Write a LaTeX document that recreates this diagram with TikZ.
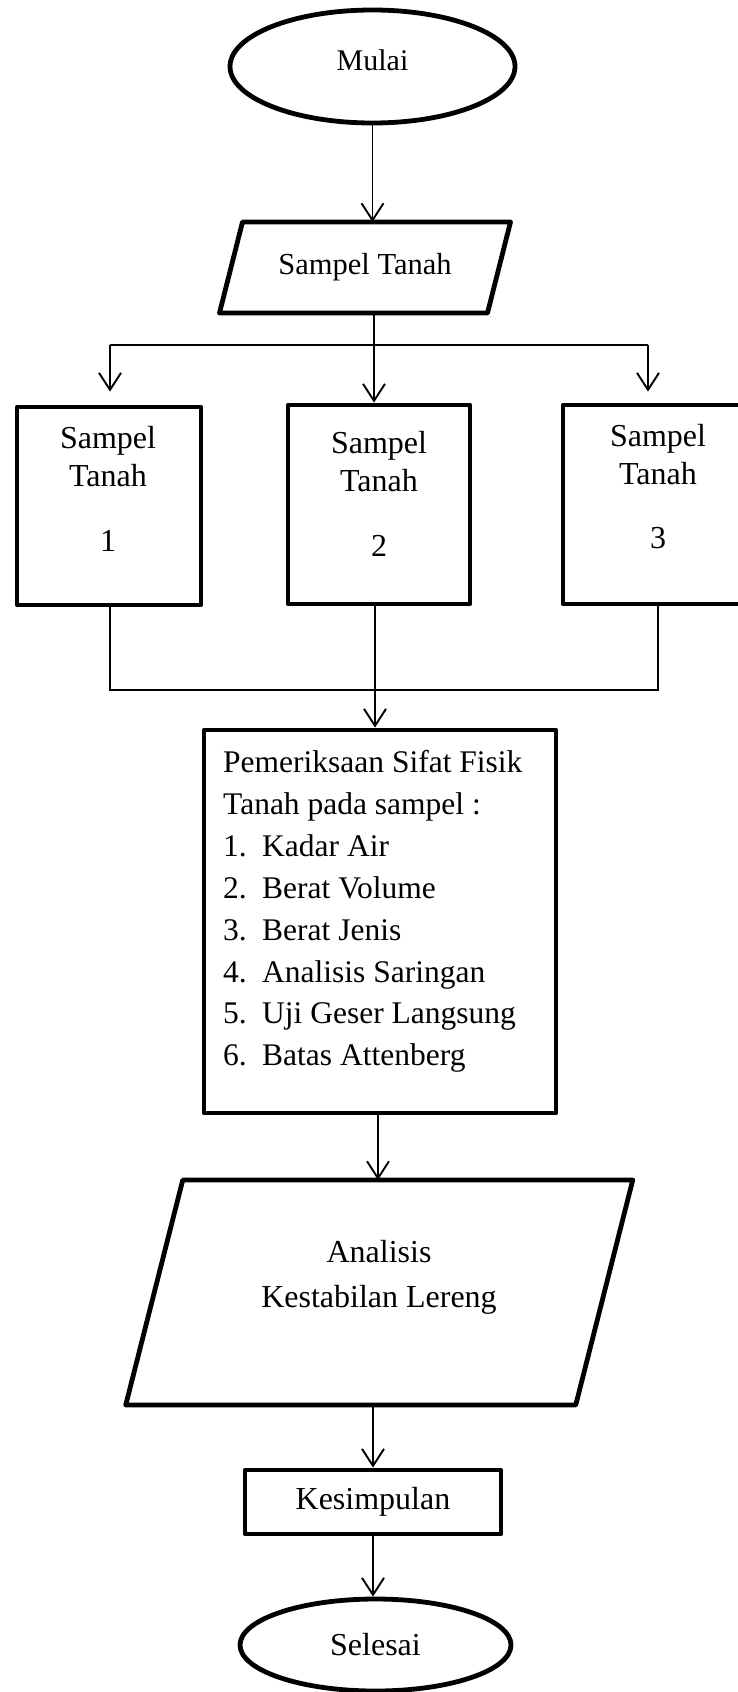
\documentclass[tikz,border=0pt]{standalone}
\usepackage{fontspec}
\setmainfont{Liberation Serif}
\usetikzlibrary{arrows.meta,shapes.geometric}
\begin{document}
\begin{tikzpicture}[x=1pt,y=-1pt,
  shp/.style={draw, line width=4.8pt, line join=round, inner sep=0pt},
  ghost/.style={inner sep=0pt, outer sep=0pt},
  para/.style={line width=4.8pt, line join=round},
  conn/.style={line width=1.9pt, -{Straight Barb[length=17pt,width=22pt]}},
  wire/.style={line width=1.5pt},
  txt/.style={font=\fontsize{32}{38}\selectfont, align=center, inner sep=0pt},
]
\useasboundingbox (0,0) rectangle (738,1692);
\clip (0,0) rectangle (738,1692);

% start
\node[shp, ellipse, minimum width=285pt, minimum height=113pt, text depth=12pt,
      font=\fontsize{30}{36}\selectfont] (mulai) at (372.5,66.5) {Mulai};

% input parallelogram
\node[ghost, minimum width=268pt, minimum height=91pt,
      font=\fontsize{30.5}{36}\selectfont] (sp) at (365,267.5) {Sampel Tanah};
\draw[para] ([xshift=11.5pt]sp.north west) -- ([xshift=11.5pt]sp.north east)
  -- ([xshift=-11.5pt]sp.south east) -- ([xshift=-11.5pt]sp.south west) -- cycle;

% three sample boxes
\node[shp, minimum width=184pt, minimum height=198pt] (b1) at (109,506) {};
\node[shp, minimum width=182pt, minimum height=199pt] (b2) at (379,504.5) {};
\node[shp, minimum width=182pt, minimum height=199pt] (b3) at (654,504.5) {};
\node[txt] (t1) at (108,489) {Sampel\\Tanah\\[27pt]1};
\node[txt] (t2) at (379,494) {Sampel\\Tanah\\[27pt]2};
\node[txt] (t3) at (658,487) {Sampel\\Tanah\\[26pt]3};

% examination box
\node[shp, minimum width=352pt, minimum height=383pt] (pem) at (380,921.5) {};
\node[anchor=west, inner sep=0pt, align=left, font=\fontsize{31.5}{41.9}\selectfont]
  (pemtxt) at (223,911.5)
  {Pemeriksaan Sifat Fisik\\
   Tanah pada sampel :\\
   \makebox[39pt][l]{1.}Kadar Air\\
   \makebox[39pt][l]{2.}Berat Volume\\
   \makebox[39pt][l]{3.}Berat Jenis\\
   \makebox[39pt][l]{4.}Analisis Saringan\\
   \makebox[39pt][l]{5.}Uji Geser Langsung\\
   \makebox[39pt][l]{6.}Batas Attenberg};

% analysis parallelogram
\node[ghost, minimum width=450pt, minimum height=225pt] (anal) at (379.25,1292.5) {};
\draw[para] ([xshift=28.5pt]anal.north west) -- ([xshift=28.5pt]anal.north east)
  -- ([xshift=-28.5pt]anal.south east) -- ([xshift=-28.5pt]anal.south west) -- cycle;
\node[txt, font=\fontsize{32}{45}\selectfont] (antxt) at (379,1277.5)
  {Analisis\\Kestabilan Lereng};

% conclusion and end
\node[shp, minimum width=256pt, minimum height=64pt,
      font=\fontsize{32}{38}\selectfont] (kes) at (373,1502) {Kesimpulan};
\node[shp, ellipse, minimum width=271pt, minimum height=92pt,
      font=\fontsize{32}{38}\selectfont] (sel) at (375.5,1645) {Selesai};

% connectors
\draw[conn] (mulai.south) -- (mulai.south |- sp.north);
\draw[conn] ([xshift=9pt]sp.south) -- ([xshift=9pt]sp.south |- b2.north);
\coordinate (bl) at (110,345);
\coordinate (br) at (648,345);
\draw[wire] (bl) -- (br);
\draw[conn, shorten >=13pt] (bl) -- (bl |- b1.north);
\draw[conn, shorten >=11pt] (br) -- (br |- b3.north);

\coordinate (mL) at (110,690);
\coordinate (mR) at (658,690);
\draw[wire] (mL |- b1.south) -- (mL) -- (mR) -- (mR |- b3.south);
\draw[conn] ([xshift=-4pt]b2.south) -- ([xshift=-4pt]b2.south |- pem.north);
\draw[conn] ([xshift=-2pt]pem.south) -- ([xshift=-2pt]pem.south |- anal.north);
\draw[conn] (kes.north |- anal.south) -- (kes.north);
\draw[conn] (kes.south) -- (kes.south |- sel.north);
\end{tikzpicture}
\end{document}
